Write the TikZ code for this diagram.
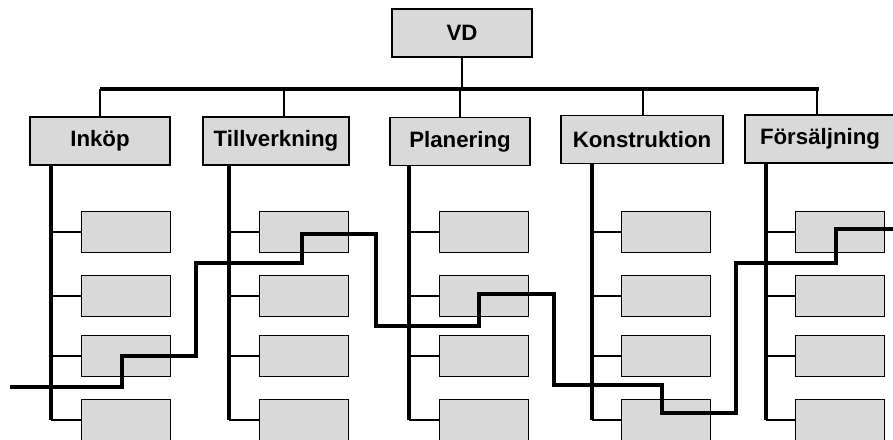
\documentclass[tikz,border=0pt]{standalone}
\usepackage{fontspec}
\setmainfont{Liberation Sans}

\tikzset{
  box/.style={draw,line width=1.3pt,fill=black!15,inner sep=0pt,
    font=\bfseries\fontsize{19}{22}\selectfont},
  dept/.style={box,minimum width=#1,minimum height=1.44cm},
  sub/.style={box,minimum width=2.66cm,minimum height=1.23cm},
  twig/.style={line width=1pt},
  bus/.style={line width=3.2pt},
  spine/.style={line width=3.4pt},
  route/.style={line width=2.8pt}
}

\begin{document}
\begin{tikzpicture}[x=0.03cm,y=-0.03cm]
\useasboundingbox (0,0) rectangle (893,439);
\clip (0,0) rectangle (893,439);

% top level
\node[dept=4.2cm] (vd) at (462,33) {VD};
\node[dept=4.2cm] (inkop) at (100,141) {Inköp};
\node[dept=4.38cm] (till) at (276,141) {Tillverkning};
\node[dept=4.2cm] (plan) at (460,141.5) {Planering};
\node[dept=4.86cm] (kons) at (642,139.5) {Konstruktion};
\node[dept=4.5cm] (fors) at (820,139) {Försäljning};

\coordinate (busL) at (100,89);
\coordinate (busR) at (819,89);
\draw[bus] (busL) -- (busR);
\draw[twig] (vd.south) -- (vd.south |- busL);
\foreach \d/\x in {inkop/100,till/284,plan/460,kons/643,fors/817}
  \draw[twig] (\d.north -| \x,0) -- (\x,89);

% sub units
\foreach \d/\s/\c in {inkop/51/126,till/229/304,plan/409/484,kons/592/666,fors/766/840}{
  \foreach \y [count=\r] in {232,296,356,420}{
    \node[sub] (\d-\r) at (\c,\y) {};
    \draw[twig] (\d-\r.west) -- (\d-\r.west -| \s,0);
  }
  \draw[spine] (\d.south -| \s,0) -- (\d-4.west -| \s,0);
}

% process line
\draw[route] (10,387) -| (122,356) -| (196,263) -| (302,234) -| (376,326)
  -| (479,294) -| (554,385) -| (662,413) -| (736,263) -| (836,229) -- (893,229);
\end{tikzpicture}
\end{document}
